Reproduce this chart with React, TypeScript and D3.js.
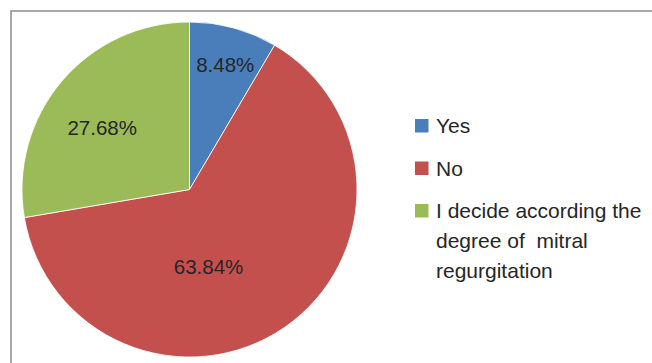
import React from "react";
import * as d3 from "d3";

const categories = ["Yes", "No", "I decide according the degree of  mitral regurgitation"];
const values = [8.48, 63.84, 27.68];
const legendLines = [["Yes"], ["No"], ["I decide according the", "degree of  mitral", "regurgitation"]];
const colors = ["#4A7EBB", "#C4504E", "#9BBB59"];

// layout (not data)
const W = 652, H = 363;
const cx = 189.5, cy = 189.5, R = 167.5;
const labelPlacement = [
  { dAngle: 0.7, r: 130 },
  { dAngle: 20.7, r: 79.3 },
  { dAngle: -5, r: 106.8 },
];

export default function App() {
  const pie = d3.pie<number>().sort(null).value((d) => d);
  const arcs = pie(values);
  const arcGen = d3.arc<d3.PieArcDatum<number>>().innerRadius(0).outerRadius(R);
  const font = "'Liberation Sans', Arial, sans-serif";

  return (
    <svg
      width={W}
      height={H}
      style={{ position: "absolute", left: 0, top: 0, background: "#fff" }}
      fontFamily={font}
    >
      <rect x={11} y={11} width={W + 20} height={H + 20} fill="#fff" stroke="#8c8c8c" strokeWidth={1.5} />
      <g transform={`translate(${cx},${cy})`}>
        {arcs.map((a, i) => (
          <path key={i} d={arcGen(a) || ""} fill={colors[i]} stroke="#fff" strokeWidth={0.8} />
        ))}
        {arcs.map((a, i) => {
          const mid = (a.startAngle + a.endAngle) / 2 + (labelPlacement[i].dAngle * Math.PI) / 180;
          const r = labelPlacement[i].r;
          const x = Math.sin(mid) * r;
          const y = -Math.cos(mid) * r;
          return (
            <text key={i} x={x} y={y} dy="0.36em" textAnchor="middle" fontSize={20.5} fill="#262626">
              {values[i].toFixed(2) + "%"}
            </text>
          );
        })}
      </g>
      <g>
        {categories.map((c, i) => {
          const y0 = 133.3 + i * 42.5;
          return (
            <g key={c}>
              <rect x={415} y={y0 - 14.3} width={13.5} height={13.5} fill={colors[i]} />
              {legendLines[i].map((line, j) => (
                <text
                  key={j}
                  x={436}
                  y={y0 + j * 30}
                  fontSize={21}
                  fill="#262626"
                  style={{ whiteSpace: "pre" }}
                >
                  {line}
                </text>
              ))}
            </g>
          );
        })}
      </g>
    </svg>
  );
}
